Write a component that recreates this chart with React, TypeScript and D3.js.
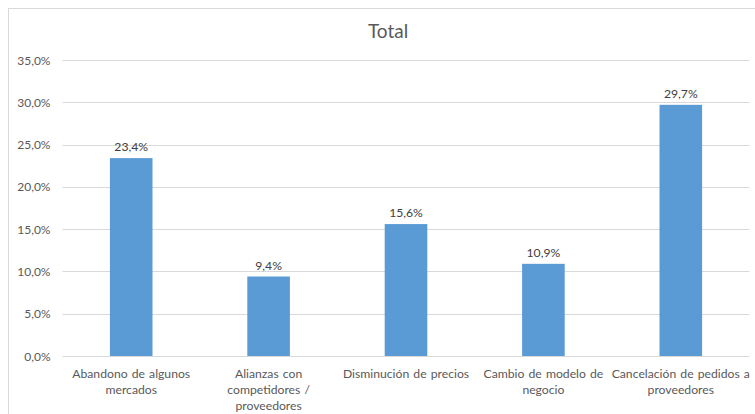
import React from "react";
import * as d3 from "d3";

const categories: string[][] = [
  ["Abandono de algunos", "mercados"],
  ["Alianzas con", "competidores /", "proveedores"],
  ["Disminución de precios"],
  ["Cambio de modelo de", "negocio"],
  ["Cancelación de pedidos a", "proveedores"],
];
const values = [23.4, 9.4, 15.6, 10.9, 29.7];
const yTicks = [0, 5, 10, 15, 20, 25, 30, 35];
const title = "Total";

const W = 755;
const H = 414;
const left = 62.5;
const right = 749.5;
const top = 60;
const bottom = 356;
const FONT = "Lato, 'Open Sans', sans-serif";

const locale = d3.formatLocale({ decimal: ",", thousands: ".", grouping: [3], currency: ["", "€"] });
const fmt = locale.format(".1f");

export default function App() {
  const x = d3.scaleBand<number>().domain(values.map((_, i) => i)).range([left, right]).paddingInner(0.69).paddingOuter(0.345);
  const y = d3.scaleLinear().domain([0, 35]).range([bottom, top]);
  return (
    <svg width={W} height={H} style={{ position: "absolute", left: 0, top: 0, background: "#fff" }}>
      <rect x={8.5} y={8.5} width={W} height={H} fill="#fff" stroke="#d9d9d9" />
      <text x={388} y={38} textAnchor="middle" fontFamily={FONT} fontSize={19} fill="#595959">{title}</text>
      {yTicks.map((t) => (
        <g key={t}>
          <line x1={left} x2={right} y1={Math.round(y(t)) + 0.5} y2={Math.round(y(t)) + 0.5} stroke="#d9d9d9" strokeWidth={1} />
          <text x={50.5} y={y(t) + 4.5} textAnchor="end" fontFamily={FONT} fontSize={12} fill="#595959">{fmt(t) + "%"}</text>
        </g>
      ))}
      {values.map((v, i) => {
        const bx = x(i)!;
        const bw = x.bandwidth();
        return (
          <g key={i}>
            <rect x={bx} y={y(v)} width={bw} height={y(0) - y(v)} fill="#5b9bd5" />
            <text x={bx + bw / 2} y={y(v) - 7} textAnchor="middle" fontFamily={FONT} fontSize={12.2} fill="#404040">{fmt(v) + "%"}</text>
            {categories[i].map((line, j) => (
              <text key={j} x={bx + bw / 2} y={377.5 + j * 16} textAnchor="middle" fontFamily={FONT} fontSize={12.2} fill="#595959" wordSpacing={1}>{line}</text>
            ))}
          </g>
        );
      })}
    </svg>
  );
}
